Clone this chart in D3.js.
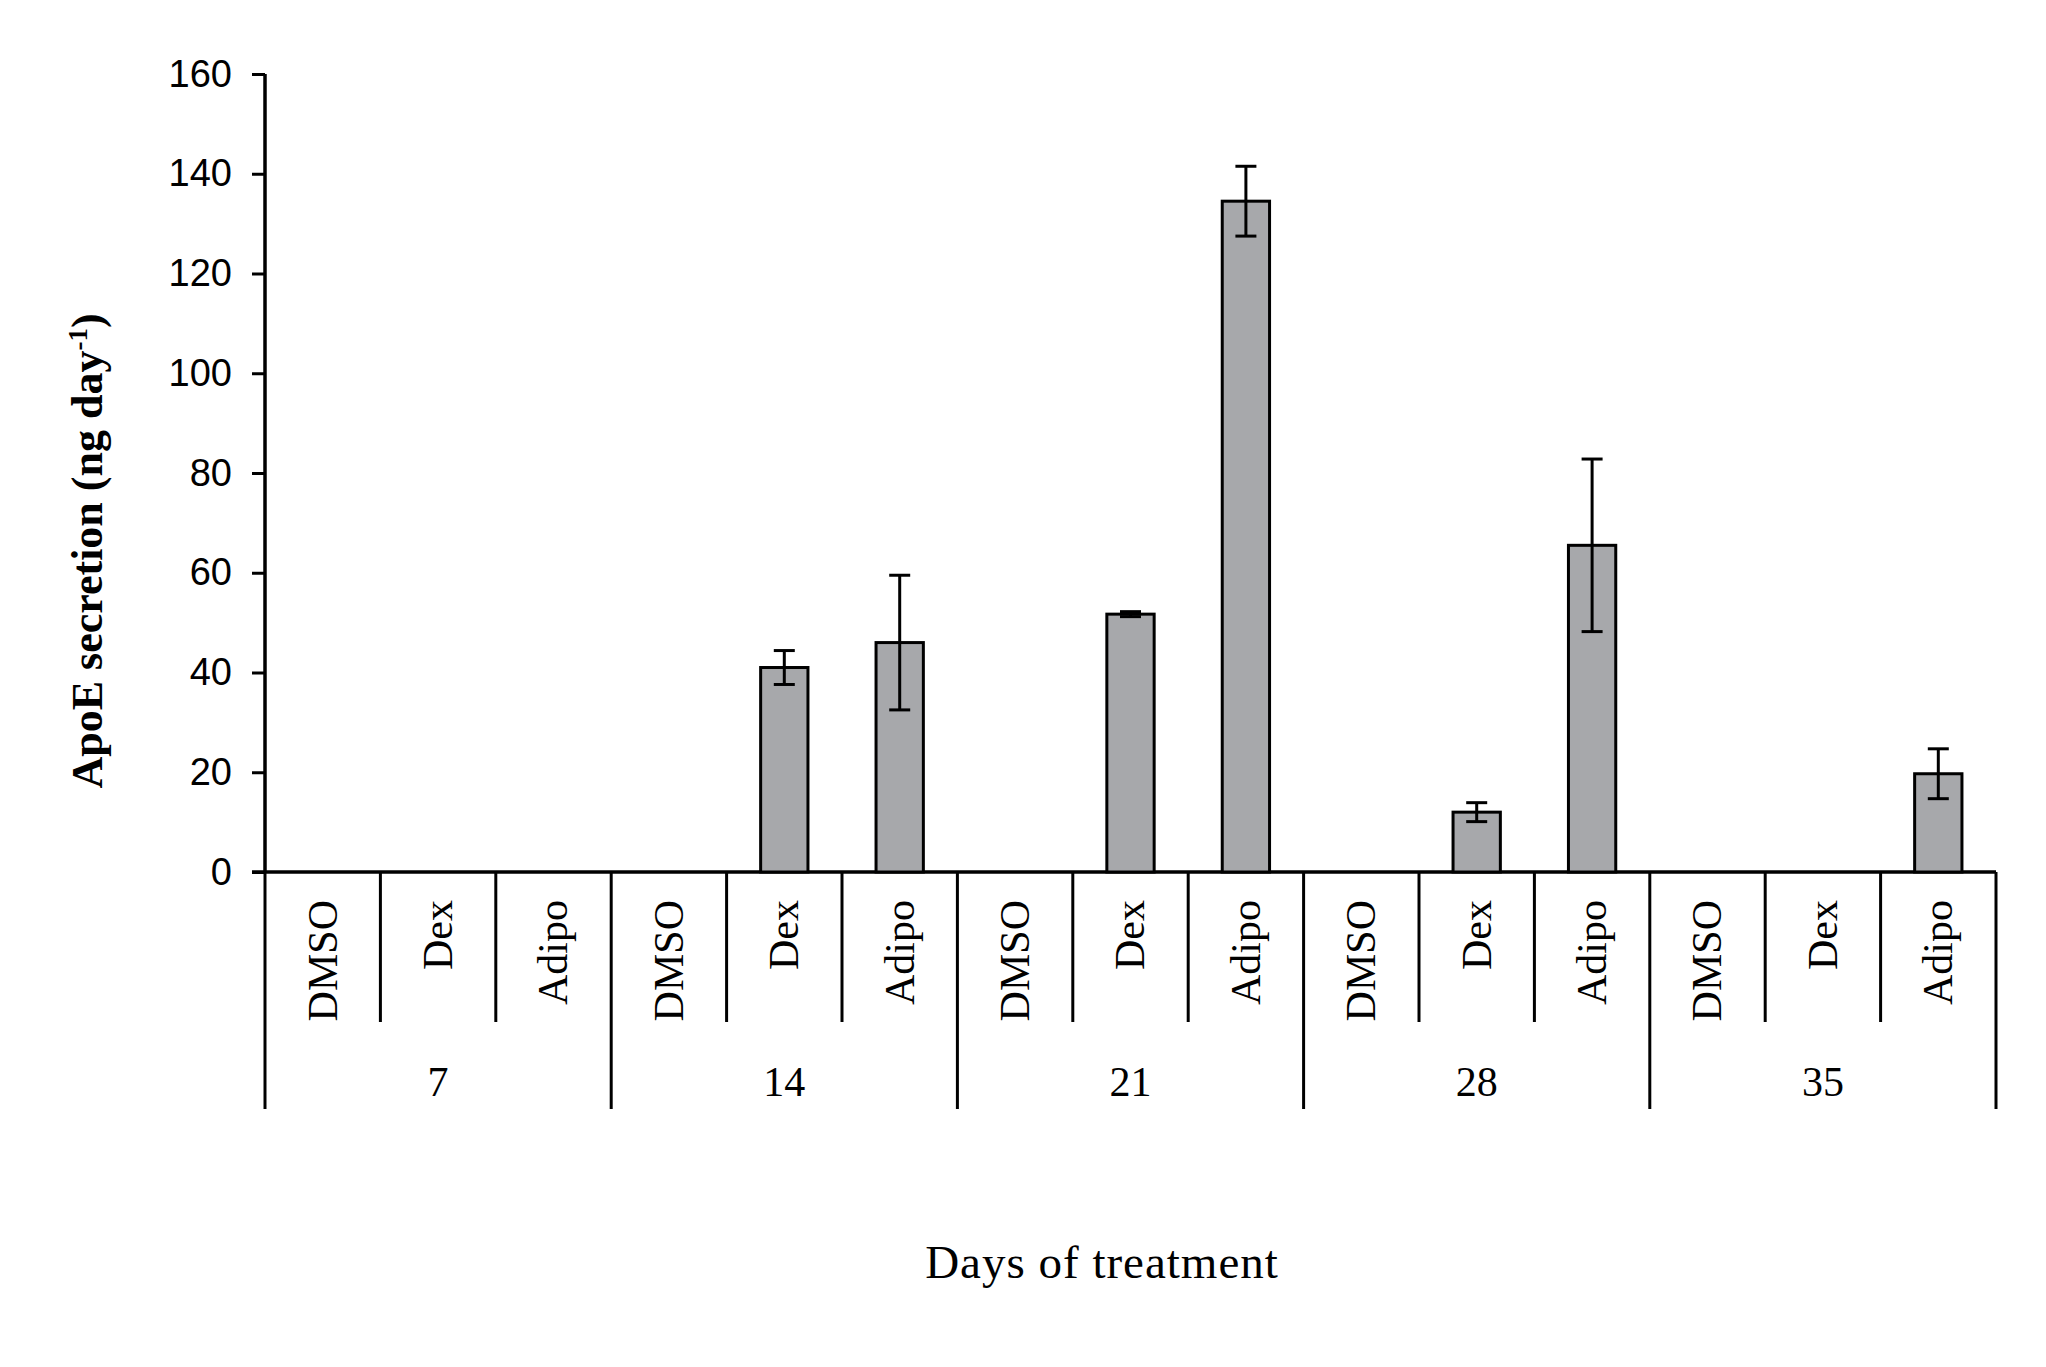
<!DOCTYPE html>
<html>
<head>
<meta charset="utf-8">
<script src="https://cdn.jsdelivr.net/npm/d3@7"></script>
<style>
  body { margin: 0; background: #fff; }
  svg { display: block; }
</style>
</head>
<body>
<div id="chart"></div>
<script>
// data
var days = ["7", "14", "21", "28", "35"];
var treatments = ["DMSO", "Dex", "Adipo"];
// mean ApoE secretion per day group, in treatment order (null = no bar)
var means = [
  [null, null, null],
  [null, 41, 46],
  [null, 51.7, 134.5],
  [null, 12, 65.5],
  [null, null, 19.7]
];
var errors = [
  [0, 0, 0],
  [0, 3.4, 13.5],
  [0, 0.5, 7],
  [0, 1.9, 17.3],
  [0, 0, 5]
];
var yTicks = [0, 20, 40, 60, 80, 100, 120, 140, 160];

var svgWidth = 2046;
var svgHeight = 1367;

var margin = { top: 74, left: 265, right: 50, bottom: 495 };
var width = svgWidth - margin.left - margin.right;
var height = svgHeight - margin.top - margin.bottom;

// flatten into one row per bar slot
var rows = [];
days.forEach(function(day, i) {
  treatments.forEach(function(t, j) {
    rows.push({ key: day + "-" + t, day: day, treatment: t, value: means[i][j], err: errors[i][j] });
  });
});

var svg = d3.select("#chart")
  .append("svg")
  .attr("width", svgWidth)
  .attr("height", svgHeight);

var chartGroup = svg.append("g")
  .attr("transform", `translate(${margin.left}, ${margin.top})`);

var xScale = d3.scaleBand()
  .domain(rows.map(d => d.key))
  .range([0, width])
  .padding(0);

var yScale = d3.scaleLinear()
  .domain([0, 160])
  .range([height, 0]);

var step = xScale.step();
var barW = step * 0.41;

// y axis
var leftAxis = d3.axisLeft(yScale)
  .tickValues(yTicks)
  .tickSize(13)
  .tickPadding(20);

var yAxisG = chartGroup.append("g").call(leftAxis);
yAxisG.select(".domain").attr("d", `M0,0V${height}`).attr("stroke", "#000").attr("stroke-width", 3.5);
yAxisG.selectAll(".tick line").attr("stroke", "#000").attr("stroke-width", 3);
yAxisG.selectAll(".tick text")
  .attr("font-family", "Liberation Sans, Arial, sans-serif")
  .attr("font-size", "38px")
  .attr("fill", "#000");

// baseline
chartGroup.append("line")
  .attr("x1", -13).attr("x2", width)
  .attr("y1", height).attr("y2", height)
  .attr("stroke", "#000").attr("stroke-width", 3.5);

// category boundaries below the axis
var innerDrop = 150;
var groupDrop = 237;
var bounds = d3.range(rows.length + 1);
chartGroup.selectAll(".sep")
  .data(bounds)
  .enter()
  .append("line")
  .attr("class", "sep")
  .attr("x1", i => i * step)
  .attr("x2", i => i * step)
  .attr("y1", height)
  .attr("y2", i => (i % 3 === 0) ? height + groupDrop : height + innerDrop)
  .attr("stroke", "#000")
  .attr("stroke-width", 3);

// treatment labels
chartGroup.selectAll(".catText")
  .data(rows)
  .enter()
  .append("text")
  .attr("class", "catText")
  .attr("transform", d => `translate(${xScale(d.key) + step / 2}, ${height + 28}) rotate(-90)`)
  .attr("dy", "0.33em")
  .attr("text-anchor", "end")
  .attr("font-family", "Liberation Serif, Times New Roman, serif")
  .attr("font-size", "42px")
  .attr("fill", "#000")
  .text(d => d.treatment);

// day labels
chartGroup.selectAll(".dayText")
  .data(days)
  .enter()
  .append("text")
  .attr("class", "dayText")
  .attr("x", (d, i) => xScale(d + "-" + treatments[1]) + step / 2)
  .attr("y", height + 224)
  .attr("text-anchor", "middle")
  .attr("font-family", "Liberation Serif, Times New Roman, serif")
  .attr("font-size", "42px")
  .attr("fill", "#000")
  .text(d => d);

// bars
var barData = rows.filter(d => d.value !== null);

chartGroup.selectAll(".bar")
  .data(barData)
  .enter()
  .append("rect")
  .attr("class", "bar")
  .attr("x", d => xScale(d.key) + (step - barW) / 2)
  .attr("y", d => yScale(d.value))
  .attr("width", barW)
  .attr("height", d => height - yScale(d.value))
  .attr("fill", "#a7a8ab")
  .attr("stroke", "#000")
  .attr("stroke-width", 3);

// error bars
var capW = 21;
var errG = chartGroup.selectAll(".err")
  .data(barData)
  .enter()
  .append("g")
  .attr("class", "err")
  .attr("transform", d => `translate(${xScale(d.key) + step / 2}, 0)`);

errG.append("line")
  .attr("x1", 0).attr("x2", 0)
  .attr("y1", d => yScale(d.value + d.err))
  .attr("y2", d => yScale(d.value - d.err))
  .attr("stroke", "#000").attr("stroke-width", 3);

errG.append("line")
  .attr("x1", -capW / 2).attr("x2", capW / 2)
  .attr("y1", d => yScale(d.value + d.err))
  .attr("y2", d => yScale(d.value + d.err))
  .attr("stroke", "#000").attr("stroke-width", 3);

errG.append("line")
  .attr("x1", -capW / 2).attr("x2", capW / 2)
  .attr("y1", d => yScale(d.value - d.err))
  .attr("y2", d => yScale(d.value - d.err))
  .attr("stroke", "#000").attr("stroke-width", 3);

// axis titles
var yTitle = svg.append("text")
  .attr("transform", "translate(102, 551) rotate(-90)")
  .attr("text-anchor", "middle")
  .attr("font-family", "Liberation Serif, Times New Roman, serif")
  .attr("font-weight", "bold")
  .attr("font-size", "44px")
  .attr("fill", "#000");
yTitle.append("tspan").text("ApoE secretion (ng day");
yTitle.append("tspan").attr("baseline-shift", "super").attr("font-size", "27px").text("-1");
yTitle.append("tspan").text(")");

svg.append("text")
  .attr("x", 1102)
  .attr("y", 1278)
  .attr("text-anchor", "middle")
  .attr("font-family", "Liberation Serif, Times New Roman, serif")
  .attr("font-size", "47px")
  .attr("letter-spacing", "1px")
  .attr("fill", "#000")
  .text("Days of treatment");
</script>
</body>
</html>
